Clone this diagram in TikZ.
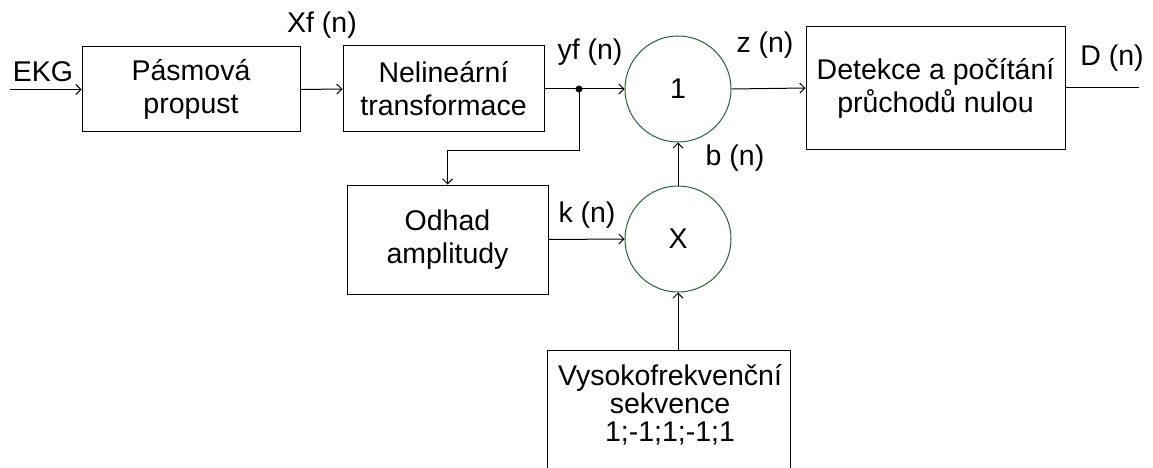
\documentclass[tikz,border=0pt]{standalone}
\usepackage{fontspec}
\setmainfont{Liberation Sans}
\usetikzlibrary{arrows.meta,calc}
\definecolor{circgreen}{RGB}{40,95,60}
\tikzset{
  box/.style={draw=black, line width=1pt, rectangle, inner sep=0pt, align=center,
    font=\fontsize{28.5}{33}\selectfont},
  sum/.style={draw=circgreen, line width=1pt, circle, minimum size=106pt, inner sep=0pt,
    font=\fontsize{28.5}{33}\selectfont},
  lbl/.style={inner sep=0pt, font=\fontsize{28.5}{33}\selectfont},
  wire/.style={draw=black, line width=1pt},
  arr/.style={wire, -{Straight Barb[length=5pt,width=10pt]}},
  dot/.style={circle, fill=black, inner sep=0pt, minimum size=7pt}
}
\begin{document}
\begin{tikzpicture}[x=1pt,y=-1pt]
\useasboundingbox (0,0) rectangle (1153,468);
\clip (0,0) rectangle (1153,468);
% blocks
\node[box, minimum width=218pt, minimum height=85pt] (b1) at (191,89.5) {Pásmová\\propust};
\node[box, minimum width=201pt, minimum height=86pt] (b2) at (443.5,89) {Nelineární\\transformace};
\node[box, minimum width=201pt, minimum height=109pt] (b3) at (447.5,239.5) {Odhad\\amplitudy};
\node[box, minimum width=259pt, minimum height=122pt] (b4) at (935.5,88) {Detekce a počítání\\průchodů nulou};
\node[box, minimum width=243pt, minimum height=150pt, anchor=north] (b5) at (668.5,350) {};
\node[lbl, align=center, font=\fontsize{28.5}{28}\selectfont] (b5t) at (670,405) {Vysokofrekvenční\\sekvence\\1;-1;1;-1;1};
% circles
\node[sum] (c1) at (678,89) {1};
\node[sum] (c2) at (678,239) {X};
% junction
\node[dot] (j) at (579,89) {};
\coordinate (in) at (10,89.5);
\coordinate (out) at (1139,88);
% wires
\draw[arr] (in) -- (b1.west);
\draw[arr] (b1.east) -- (b2.west);
\draw[arr] (b2.east) -- (c1.west);
\draw[arr] (j.center) -- ++(0,61) -| (b3.north);
\draw[arr] (b3.east) -- (c2.west);
\draw[arr] (c2.north) -- (c1.south);
\draw[arr] (c2.south |- b5.north) -- (c2.south);
\draw[arr] (c1.east) -- (b4.west);
\draw[wire] (b4.east) -- (out);
% labels
\node[lbl] (lekg) at (43,72) {EKG};
\node[lbl] (lxf) at (322,25) {Xf (n)};
\node[lbl] (lyf) at (590,52) {yf (n)};
\node[lbl] (lz) at (765,45) {z (n)};
\node[lbl] (ld) at (1112,58) {D (n)};
\node[lbl] (lb) at (735,158) {b (n)};
\node[lbl] (lk) at (587,215) {k (n)};
\end{tikzpicture}
\end{document}
